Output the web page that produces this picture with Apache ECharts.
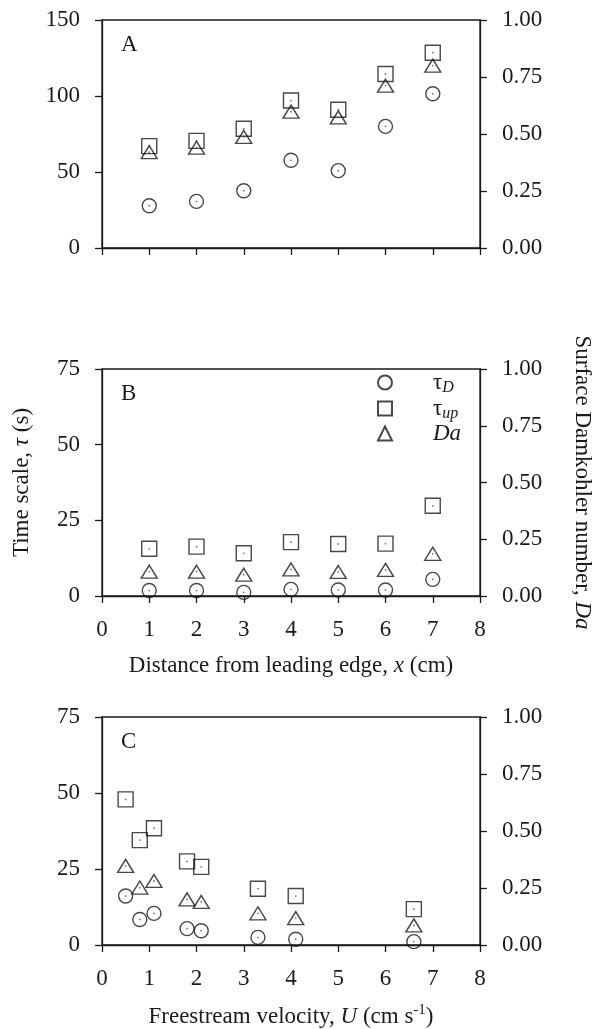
<!DOCTYPE html>
<html lang="en">
<head>
  <meta charset="UTF-8">
  <title>chart</title>
  <style>
    html, body { margin: 0; padding: 0; background: #fff; }
  </style>
</head>
<body>
<div id="main" style="width: 596px;height:1029px;"></div>
<script src="https://cdn.jsdelivr.net/npm/echarts@6/dist/echarts.min.js"></script>
<script>
// panel A & B: distance from leading edge (cm)
var xDist = [1, 2, 3, 4, 5, 6, 7];
var aTauD = [27.8, 30.7, 37.7, 57.7, 50.9, 80.0, 101.5];
var aTauUp = [67, 70.5, 78.5, 97, 91, 114.5, 128.5];
var aDa = [0.42, 0.44, 0.487, 0.598, 0.573, 0.712, 0.80];

var bTauD = [1.8, 1.8, 1.2, 2.2, 2.0, 2.0, 5.5];
var bTauUp = [15.6, 16.3, 14.1, 17.8, 17.2, 17.3, 29.8];
var bDa = [0.107, 0.107, 0.094, 0.117, 0.106, 0.115, 0.186];

// panel C: freestream velocity (cm/s)
var xU = [0.5, 0.8, 1.1, 1.8, 2.1, 3.3, 4.1, 6.6];
var cTauD = [16.1, 8.4, 10.4, 5.4, 4.7, 2.5, 1.9, 1.1];
var cTauUp = [47.9, 34.5, 38.4, 27.5, 25.7, 18.5, 16.1, 11.8];
var cDa = [0.347, 0.252, 0.281, 0.20, 0.189, 0.139, 0.118, 0.086];

var leftTicksA = [0, 50, 100, 150];
var leftTicksBC = [0, 25, 50, 75];
var rightTicks = [0, 0.25, 0.5, 0.75, 1];

var FONT = 'Liberation Serif';
var INK = '#1a1a1a';

function pairs(xs, ys) {
  return xs.map(function (x, i) { return [x, ys[i]]; });
}

var myChart = echarts.init(document.getElementById('main'));

var tops = [20, 369, 717];
var heights = [228, 227, 228];

var grids = tops.map(function (t, i) {
  return { left: 102, right: 116, top: t, height: heights[i], show: true,
    containLabel: false, outerBoundsMode: 'none',
    borderColor: INK, borderWidth: 1.3, backgroundColor: 'transparent' };
});

var lineStyle = { color: INK, width: 1.3 };
var labelStyle = { color: INK, fontFamily: FONT, fontSize: 23, margin: 22 };

var xAxes = [0, 1, 2].map(function (i) {
  var ax = {
    type: 'value', gridIndex: i, min: 0, max: 8, interval: 1,
    axisLine: { show: true, lineStyle: lineStyle },
    axisTick: { show: true, length: 7, lineStyle: lineStyle },
    axisLabel: Object.assign({ show: i > 0 }, labelStyle),
    splitLine: { show: false },
    nameLocation: 'middle', nameGap: 58,
    nameTextStyle: { color: INK, fontFamily: FONT, fontSize: 23,
      rich: {
        i: { fontFamily: FONT, fontSize: 23, fontStyle: 'italic', color: INK },
        sup: { fontFamily: FONT, fontSize: 15, color: INK, verticalAlign: 'top', padding: [0, 0, 12, 0] }
      } }
  };
  if (i === 1) ax.name = 'Distance from leading edge, {i|x} (cm)';
  if (i === 2) ax.name = 'Freestream velocity, {i|U} (cm s{sup|-1})';
  return ax;
});

var yAxes = [];
[0, 1, 2].forEach(function (i) {
  var lt = i === 0 ? leftTicksA : leftTicksBC;
  var left = {
    type: 'value', gridIndex: i, position: 'left',
    min: lt[0], max: lt[lt.length - 1], interval: lt[1] - lt[0],
    axisLine: { show: true, lineStyle: lineStyle },
    axisTick: { show: true, length: 7, lineStyle: lineStyle },
    axisLabel: labelStyle,
    splitLine: { show: false }
  };
  var right = {
    type: 'value', gridIndex: i, position: 'right',
    min: rightTicks[0], max: rightTicks[rightTicks.length - 1], interval: rightTicks[1] - rightTicks[0],
    axisLine: { show: true, lineStyle: lineStyle },
    axisTick: { show: true, length: 7, lineStyle: lineStyle },
    axisLabel: Object.assign({ formatter: function (v) { return v.toFixed(2); } }, labelStyle),
    splitLine: { show: false }
  };
  if (i === 1) {
    left.name = 'Time scale, {i|τ} (s)';
    left.nameLocation = 'middle';
    left.nameGap = 69;
    left.nameTextStyle = { color: INK, fontFamily: FONT, fontSize: 23,
      rich: { i: { fontFamily: FONT, fontSize: 23, fontStyle: 'italic', color: INK } } };
    right.name = 'Surface Damkohler number, {i|Da}';
    right.nameLocation = 'middle';
    right.nameRotate = -90;
    right.nameGap = 91;
    right.nameTextStyle = { color: INK, fontFamily: FONT, fontSize: 23,
      rich: { i: { fontFamily: FONT, fontSize: 23, fontStyle: 'italic', color: INK } } };
  }
  yAxes.push(left, right);
});

var markStyle = { color: 'transparent', borderColor: INK, borderWidth: 1.4 };
var dotStyle = { color: '#555' };

var panels = [
  { xs: xDist, d: aTauD, u: aTauUp, da: aDa },
  { xs: xDist, d: bTauD, u: bTauUp, da: bDa },
  { xs: xU, d: cTauD, u: cTauUp, da: cDa }
];

var series = [];
panels.forEach(function (p, i) {
  var sets = [
    { name: 'tauD', sym: 'circle', size: 14, data: pairs(p.xs, p.d), y: i * 2 },
    { name: 'tauUp', sym: 'rect', size: 15, data: pairs(p.xs, p.u), y: i * 2 },
    { name: 'Da', sym: 'triangle', size: [16, 13], data: pairs(p.xs, p.da), y: i * 2 + 1 }
  ];
  sets.forEach(function (s) {
    series.push({
      name: s.name, type: 'scatter', xAxisIndex: i, yAxisIndex: s.y,
      symbol: s.sym, symbolSize: s.size, data: s.data,
      itemStyle: markStyle, silent: true
    });
    series.push({
      type: 'scatter', xAxisIndex: i, yAxisIndex: s.y,
      symbol: 'circle', symbolSize: 1.8, data: s.data,
      itemStyle: dotStyle, silent: true
    });
  });
});

var legendRich = {
  g: { fontFamily: FONT, fontSize: 23, color: INK },
  it: { fontFamily: FONT, fontSize: 23, fontStyle: 'italic', color: INK },
  sub: { fontFamily: FONT, fontSize: 16, fontStyle: 'italic', color: INK, verticalAlign: 'bottom', padding: [10, 0, 0, 0] }
};
var legendText = {
  tauD: '{g|τ}{sub|D}',
  tauUp: '{g|τ}{sub|up}',
  Da: '{it|Da}'
};
var legendTops = [371, 397, 422];
var legends = ['tauD', 'tauUp', 'Da'].map(function (n, k) {
  return {
    data: [n], left: 377, top: legendTops[k], padding: 0,
    itemWidth: 14, itemHeight: 14, selectedMode: false,
    formatter: function (name) { return legendText[name]; },
    textStyle: { rich: legendRich, padding: [0, 0, 0, 36] }
  };
});

var titles = ['A', 'B', 'C'].map(function (t, i) {
  return { text: t, left: 121, top: tops[i] + 13, padding: 0,
    textStyle: { fontFamily: FONT, fontSize: 23, fontWeight: 'normal', color: INK } };
});

myChart.setOption({
  animation: false,
  title: titles,
  legend: legends,
  grid: grids,
  xAxis: xAxes,
  yAxis: yAxes,
  series: series
});
</script>
</body>
</html>
